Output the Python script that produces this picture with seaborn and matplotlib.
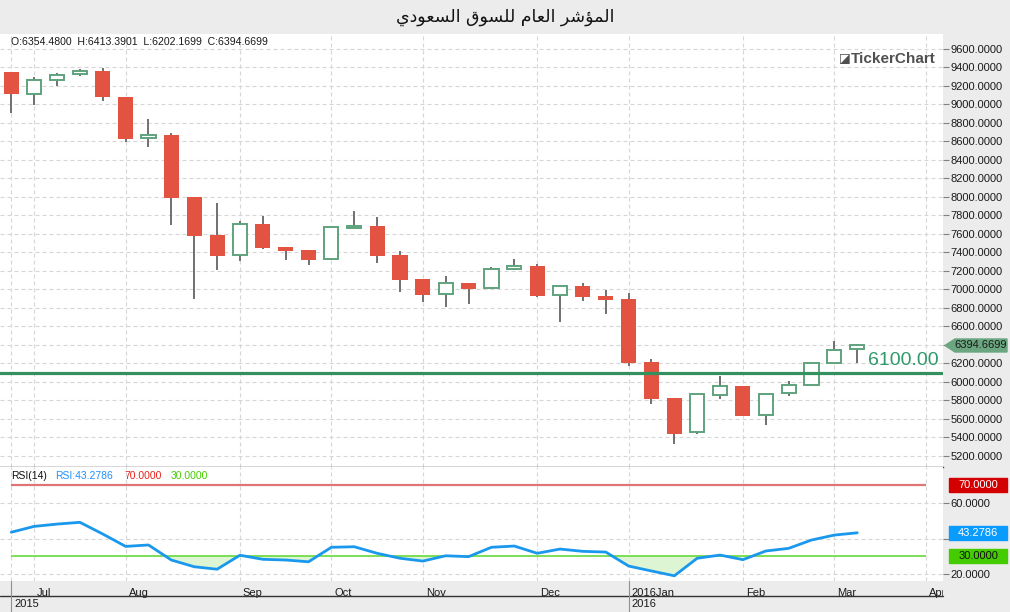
import numpy as np
import pandas as pd
import matplotlib
matplotlib.use("Agg")
import matplotlib.pyplot as plt
import matplotlib.transforms as mtransforms
from matplotlib.patches import Rectangle, Polygon
from matplotlib.lines import Line2D
import seaborn as sns

# weekly candles, Jun 2015 - Mar 2016
week = np.arange(38)
opens = [9351, 9117, 9262, 9327, 9362, 9081, 8635, 8670, 8000, 7589, 7370, 7708, 7459, 7427, 7326,
         7668, 7686, 7373, 7114, 6948, 7070, 7012, 7218, 7254, 6937, 7038, 6930, 6897, 6216, 5827,
         5456, 5856, 5957, 5640, 5878, 5964, 6202, 6354.4800]
highs = [9355, 9297, 9341, 9381, 9391, 9085, 8843, 8692, 8005, 7935, 7741, 7795, 7462, 7430, 7680,
         7849, 7784, 7416, 7118, 7146, 7075, 7243, 7330, 7276, 7045, 7070, 6995, 6959, 6249, 5830,
         5870, 6068, 5962, 5881, 6011, 6206, 6443, 6413.3901]
lows = [8911, 8998, 9203, 9311, 9041, 8598, 8544, 7701, 6901, 7214, 7311, 7441, 7319, 7268, 7320,
        7665, 7290, 6976, 6868, 6814, 6846, 7010, 7207, 6922, 6652, 6879, 6738, 6176, 5765, 5333,
        5440, 5819, 5634, 5538, 5852, 5962, 6200, 6202.1699]
closes = [9117, 9262, 9316, 9359, 9084, 8630, 8667, 7992, 7582, 7365, 7705, 7452, 7419, 7322, 7672,
          7686, 7365, 7106, 6944, 7067, 7009, 7218, 7251, 6933, 7034, 6922, 6890, 6209, 5819, 5441,
          5867, 5954, 5636, 5870, 5964, 6202, 6343, 6394.6699]
rsi = [43.6, 46.9, 48.2, 49.2, 42.6, 35.6, 36.4, 27.9, 24.1, 22.7, 30.6, 28.3, 27.9, 26.9, 35.1,
       35.4, 31.7, 28.9, 27.3, 30.3, 29.8, 35.1, 35.8, 31.7, 34.1, 32.8, 32.4, 24.5, 21.7, 19.0,
       28.9, 30.7, 28.1, 33.0, 34.5, 39.2, 42.0, 43.2786]

month_pos = [1, 5, 10, 14, 18, 23, 27, 32, 36, 40]
month_labels = ["Jul", "Aug", "Sep", "Oct", "Nov", "Dec", "2016Jan", "Feb", "Mar", "Apr"]
year_pos = [0, 27]
year_labels = ["2015", "2016"]
price_ticks = list(range(5200, 9601, 200))
rsi_ticks = [20, 40, 60]
support = 6100
title = "المؤشر العام للسوق السعودي"

# minimal arabic shaping (matplotlib has no complex text layout)
AR_FORMS = {  # isolated, final, initial, medial
    "ا": ("\uFE8D", "\uFE8E", None, None),
    "ل": ("\uFEDD", "\uFEDE", "\uFEDF", "\uFEE0"),
    "م": ("\uFEE1", "\uFEE2", "\uFEE3", "\uFEE4"),
    "ؤ": ("\uFE85", "\uFE86", None, None),
    "ش": ("\uFEB5", "\uFEB6", "\uFEB7", "\uFEB8"),
    "ر": ("\uFEAD", "\uFEAE", None, None),
    "ع": ("\uFEC9", "\uFECA", "\uFECB", "\uFECC"),
    "س": ("\uFEB1", "\uFEB2", "\uFEB3", "\uFEB4"),
    "و": ("\uFEED", "\uFEEE", None, None),
    "ق": ("\uFED5", "\uFED6", "\uFED7", "\uFED8"),
    "د": ("\uFEA9", "\uFEAA", None, None),
    "ي": ("\uFEF1", "\uFEF2", "\uFEF3", "\uFEF4"),
}


def shape_arabic(text):
    out = []
    for i, ch in enumerate(text):
        if ch not in AR_FORMS:
            out.append(ch)
            continue
        prev = text[i - 1] if i > 0 else ""
        nxt = text[i + 1] if i + 1 < len(text) else ""
        joins_prev = prev in AR_FORMS and AR_FORMS[prev][2] is not None
        joins_next = nxt in AR_FORMS and AR_FORMS[ch][2] is not None
        iso, fin, ini, med = AR_FORMS[ch]
        if joins_prev and joins_next:
            out.append(med)
        elif joins_prev:
            out.append(fin)
        elif joins_next:
            out.append(ini)
        else:
            out.append(iso)
    return "".join(reversed(out))


df = pd.DataFrame({"week": week, "open": opens, "high": highs, "low": lows, "close": closes, "rsi": rsi})
up = df["close"] >= df["open"]
last = df.iloc[-1]

sns.set_theme(style="white")
plt.rcParams["font.family"] = ["Liberation Sans", "DejaVu Sans"]

BG = "#ececec"
GRID = dict(color="#d6d6d6", lw=0.8, ls=(0, (3.6, 2.7)))
W, H = 1010, 612
PW = 943  # plot width in px

fig = plt.figure(figsize=(W / 100, H / 100), dpi=100, facecolor=BG)
ax_p = fig.add_axes([0, 145 / H, PW / W, 433 / H], facecolor="white")
ax_r = fig.add_axes([0, 31 / H, PW / W, 114 / H], facecolor="white")

fig.text(0.5, 1 - 17 / H, shape_arabic(title), ha="center", va="center",
         fontsize=12.5, family="DejaVu Sans", color="#111111")

xlim = (-0.494, 40.75)

# ---- price panel ----
ax_p.set_axisbelow(True)
ax_p.vlines(df["week"], df["low"], df["high"], color="#707070", lw=1.4, zorder=2)
ax_p.bar(df["week"][up], (df["close"] - df["open"])[up], bottom=df["open"][up], width=0.62,
         facecolor="white", edgecolor="#5fa37e", lw=1.4, zorder=3)
ax_p.bar(df["week"][~up], (df["open"] - df["close"])[~up], bottom=df["close"][~up], width=0.66,
         color="#e25441", lw=0, zorder=3)
ax_p.axhline(support, color="#35905f", lw=2.3, zorder=4)
bt = mtransforms.blended_transform_factory(ax_p.transAxes, ax_p.transData)
ax_p.annotate(f"{support:.2f}", xy=(868 / PW, support), xycoords=bt,
              xytext=(0, 12), textcoords="offset pixels", ha="left", va="center",
              fontsize=14, color="#2f9a6c", zorder=5)

ax_p.set_xlim(*xlim)
ax_p.set_ylim(5081, 9762)
ax_p.set_xticks([0] + month_pos)
# the 6400 label sits under the last-price badge
ax_p.set_yticks(price_ticks, ["" if abs(t - last["close"]) < 100 else f"{t:.4f}" for t in price_ticks])
ax_p.yaxis.tick_right()
ax_p.tick_params(axis="x", length=0, labelbottom=False)
ax_p.tick_params(axis="y", direction="out", length=4, width=0.8, color="#808080",
                 labelsize=8, labelcolor="#1a1a1a", pad=1.5)
ax_p.grid(True, **GRID)
for s in ["top", "left", "right"]:
    ax_p.spines[s].set_visible(False)
ax_p.spines["bottom"].set_color("#3a3a3a")
ax_p.spines["bottom"].set_linewidth(1.0)
ax_p.set_xlabel("")
ax_p.set_ylabel("")

ax_p.text(11 / PW, 1 - 8 / 433,
          f"O:{last['open']:.4f}  H:{last['high']:.4f}  L:{last['low']:.4f}  C:{last['close']:.4f}",
          transform=ax_p.transAxes, fontsize=7.6, color="#1a1a1a", va="center", ha="left")
ax_p.text(839 / PW, 1 - 25 / 433, "◪", transform=ax_p.transAxes, fontsize=9,
          family="DejaVu Sans", color="#505050", va="center", ha="left")
ax_p.text(851 / PW, 1 - 25 / 433, "TickerChart", transform=ax_p.transAxes, fontsize=11,
          fontweight="bold", color="#505050", va="center", ha="left")

# last price badge (arrow box)
hh = 6.5 * (9762 - 5081) / 433
c = last["close"]
ax_p.add_patch(Polygon([(945 / PW, c), (955 / PW, c + hh), (1007 / PW, c + hh),
                        (1007 / PW, c - hh), (955 / PW, c - hh)], closed=True,
                       transform=bt, clip_on=False, fc="#6aa67f", ec="#6aa67f", zorder=6))
ax_p.text(981 / PW, c, f"{c:.4f}", transform=bt, ha="center", va="center",
          fontsize=8, color="#1a1a1a", zorder=7, clip_on=False)

# ---- RSI panel ----
ax_r.set_axisbelow(True)
rsi_arr = np.array(rsi)
ax_r.fill_between(week, rsi_arr, 30, where=rsi_arr < 30, interpolate=True, color="#ddf5d2", lw=0, zorder=1)
ax_r.hlines(70, 0, 40, color="#e07474", lw=1.6, zorder=2)
ax_r.hlines(30, 0, 40, color="#66d93a", lw=1.2, zorder=2)
sns.lineplot(x=week, y=rsi_arr, ax=ax_r, color="#1a98ee", lw=2.0, zorder=3)
ax_r.set_xlim(*xlim)
ax_r.set_ylim(16.05, 80.45)
# the 40 label sits under the RSI badge
ax_r.set_yticks(rsi_ticks, ["" if abs(t - rsi[-1]) < 5 else f"{t:.4f}" for t in rsi_ticks])
ax_r.yaxis.tick_right()
ax_r.tick_params(axis="y", direction="out", length=4, width=0.8, color="#808080",
                 labelsize=8, labelcolor="#1a1a1a", pad=1.5)
ax_r.set_xticks([0] + month_pos, [""] + month_labels)
ax_r.tick_params(axis="x", direction="out", length=4, width=0.8, color="#909090",
                 labelsize=8, labelcolor="#1a1a1a", pad=1)
clip = mtransforms.TransformedBbox(mtransforms.Bbox([[0, 0], [PW / W, 1]]), fig.transFigure)
shift = mtransforms.ScaledTranslation(3 / 100, 0, fig.dpi_scale_trans)
for lbl in ax_r.get_xticklabels():
    lbl.set_horizontalalignment("left")
    lbl.set_transform(lbl.get_transform() + shift)
    lbl.set_clip_box(clip)
    lbl.set_clip_on(True)
ax_r.grid(True, **GRID)
for s in ax_r.spines.values():
    s.set_visible(False)
ax_r.set_xlabel("")
ax_r.set_ylabel("")

ax_r.text(11 / PW, 1 - 9 / 114, "RSI(14)", transform=ax_r.transAxes, fontsize=7.5, color="#111111", va="center")
ax_r.text(55 / PW, 1 - 9 / 114, f"RSI:{rsi[-1]:.4f}", transform=ax_r.transAxes, fontsize=7.5,
          color="#1e90ff", va="center")
ax_r.text(124 / PW, 1 - 9 / 114, "70.0000", transform=ax_r.transAxes, fontsize=7.5, color="#e8201a", va="center")
ax_r.text(171 / PW, 1 - 9 / 114, "30.0000", transform=ax_r.transAxes, fontsize=7.5, color="#44cc00", va="center")

rt = mtransforms.blended_transform_factory(ax_r.transAxes, ax_r.transData)
bh = 14 * (80.45 - 16.05) / 114
for val, fc, tc in [(70, "#d40000", "white"), (rsi[-1], "#0a9bff", "white"), (30, "#44cc00", "#111111")]:
    ax_r.add_patch(Rectangle((949 / PW, val - bh / 2), 58 / PW, bh, transform=rt, clip_on=False,
                             fc=fc, ec=fc, zorder=6))
    ax_r.text(978 / PW, val, f"{val:.4f}", transform=rt, ha="center", va="center", fontsize=8,
              color=tc, zorder=7, clip_on=False)

# date axis rows
fig.add_artist(Line2D([0, PW / W], [16 / H, 16 / H], color="#333333", lw=1.0))
yt = mtransforms.blended_transform_factory(ax_r.transData, fig.transFigure)
for xp, lab in zip(year_pos, year_labels):
    fig.add_artist(Line2D([xp, xp], [0, 31 / H], transform=yt, color="#909090", lw=0.8))
    fig.text(xp, 8 / H, lab, transform=yt + shift, ha="left", va="center", fontsize=8, color="#1a1a1a")

fig.savefig("out.png", dpi=100, facecolor=fig.get_facecolor())
